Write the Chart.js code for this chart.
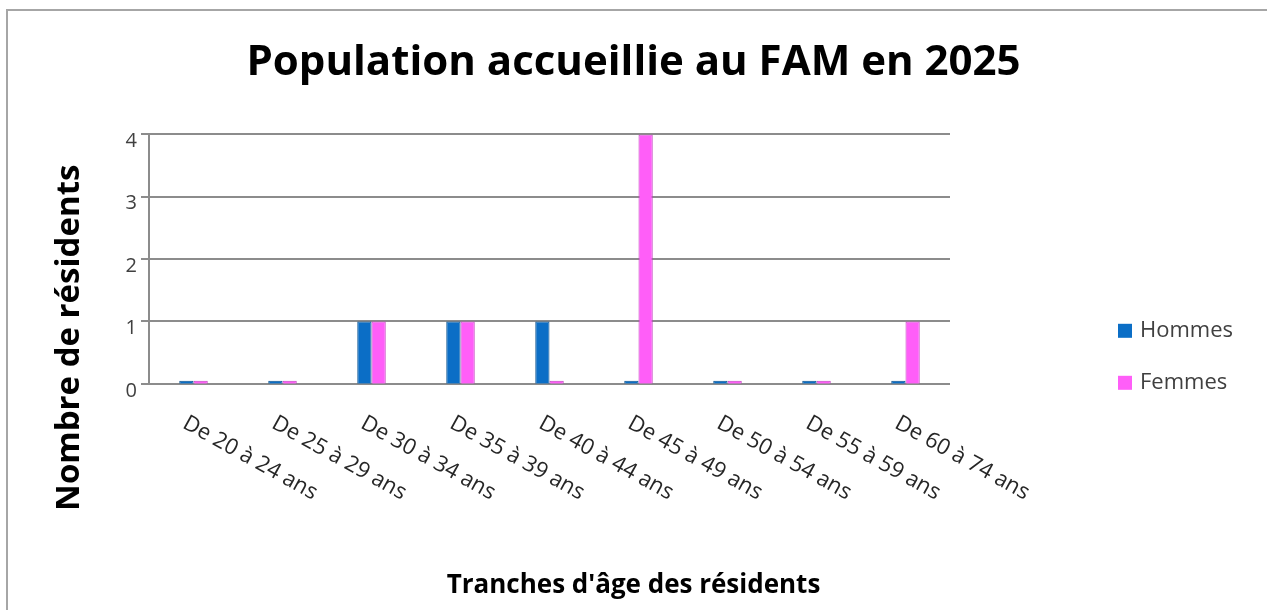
<!DOCTYPE html>
<html lang="fr">
<head>
<meta charset="utf-8">
<title>Population accueillie au FAM en 2025</title>
<script src="https://cdn.jsdelivr.net/npm/chart.js@4.4.1/dist/chart.umd.min.js"></script>
<style>
  html, body { margin: 0; padding: 0; background: #fff; }
  #wrap { position: relative; width: 1267px; height: 610px; overflow: hidden; }
  #frame { position: absolute; left: 6px; top: 9px; right: -10px; bottom: -10px; border: 2px solid #a6a6a6; }
  canvas { position: absolute; left: 0; top: 0; }
</style>
</head>
<body>
<div id="wrap"><div id="frame"></div><canvas id="chart" width="1267" height="610"></canvas></div>
<script>
// age brackets (x axis)
var CATEGORIES = [
  'De 20 à 24 ans', 'De 25 à 29 ans', 'De 30 à 34 ans', 'De 35 à 39 ans', 'De 40 à 44 ans',
  'De 45 à 49 ans', 'De 50 à 54 ans', 'De 55 à 59 ans', 'De 60 à 74 ans'
];
// number of residents per bracket
var HOMMES = [0, 0, 1, 1, 1, 0, 0, 0, 0];
var FEMMES = [0, 0, 1, 1, 0, 4, 0, 0, 1];
var Y_TICKS = [0, 1, 2, 3, 4];

var TITLE = 'Population accueillie au FAM en 2025';
var X_TITLE = "Tranches d'âge des résidents";
var Y_TITLE = 'Nombre de résidents';

var FONT = '"Open Sans", "DejaVu Sans", sans-serif';
var GRID = '#8c8c8c';

// rotated tick labels, vertical axis title and the legend, placed like the Excel original
var extras = {
  id: 'extras',
  afterDraw: function (chart) {
    var ctx = chart.ctx;
    var area = chart.chartArea;
    var xs = chart.scales.x;
    ctx.save();

    ctx.font = '22px ' + FONT;
    ctx.fillStyle = '#262626';
    ctx.textAlign = 'left';
    ctx.textBaseline = 'middle';
    CATEGORIES.forEach(function (label, i) {
      ctx.save();
      ctx.translate(xs.getPixelForValue(i) - 9, area.bottom + 38);
      ctx.rotate(29 * Math.PI / 180);
      ctx.fillText(label, 0, 0);
      ctx.restore();
    });

    ctx.save();
    ctx.translate(70, area.bottom - 46);
    ctx.rotate(-Math.PI / 2);
    ctx.textAlign = 'center';
    ctx.font = 'bold 33px ' + FONT;
    ctx.fillStyle = '#000';
    ctx.fillText(Y_TITLE, 0, 0);
    ctx.restore();

    var lx = area.right + 168;
    chart.data.datasets.forEach(function (ds, i) {
      var ly = area.bottom - 53 + i * 52;
      ctx.fillStyle = ds.backgroundColor;
      ctx.fillRect(lx, ly - 7, 14, 14);
      ctx.fillStyle = '#404040';
      ctx.font = '22px ' + FONT;
      ctx.fillText(ds.label, lx + 22, ly);
    });

    ctx.restore();
  }
};

new Chart(document.getElementById('chart').getContext('2d'), {
  type: 'bar',
  data: {
    labels: CATEGORIES,
    datasets: [{
      label: 'Hommes',
      data: HOMMES,
      backgroundColor: '#0b6ec6',
      borderColor: '#08508f',
      borderWidth: 1,
      minBarLength: 3,
      categoryPercentage: 0.32,
      barPercentage: 1
    }, {
      label: 'Femmes',
      data: FEMMES,
      backgroundColor: '#ff5ef8',
      borderColor: '#c23fc0',
      borderWidth: 1,
      minBarLength: 3,
      categoryPercentage: 0.32,
      barPercentage: 1
    }]
  },
  options: {
    responsive: false,
    animation: false,
    plugins: {
      legend: { display: false },
      tooltip: { enabled: false },
      title: {
        display: true,
        text: TITLE,
        color: '#000',
        font: { family: FONT, size: 42, weight: 'bold' },
        padding: { top: 38, bottom: 46 }
      },
      subtitle: {
        display: true,
        position: 'bottom',
        text: X_TITLE,
        color: '#000',
        font: { family: FONT, size: 26, weight: 'bold' },
        padding: { top: 0, bottom: 9 }
      }
    },
    scales: {
      x: {
        grid: { display: false },
        border: { display: false },
        ticks: { display: false },
        afterFit: function (s) { s.height = 186; }
      },
      // empty right-hand axis that only reserves room for the legend
      side: {
        position: 'right',
        grid: { display: false },
        border: { display: false },
        ticks: { display: false },
        afterFit: function (s) { s.width = 317; }
      },
      y: {
        min: 0,
        max: 4,
        afterBuildTicks: function (s) {
          s.ticks = Y_TICKS.map(function (v) { return { value: v }; });
        },
        afterFit: function (s) { s.width = 149; },
        grid: { color: GRID, lineWidth: 2, tickLength: 8 },
        border: { color: GRID, width: 2 },
        ticks: { color: '#404040', font: { family: FONT, size: 20 }, padding: 4, labelOffset: 7 }
      }
    }
  },
  plugins: [extras]
});
</script>
</body>
</html>
